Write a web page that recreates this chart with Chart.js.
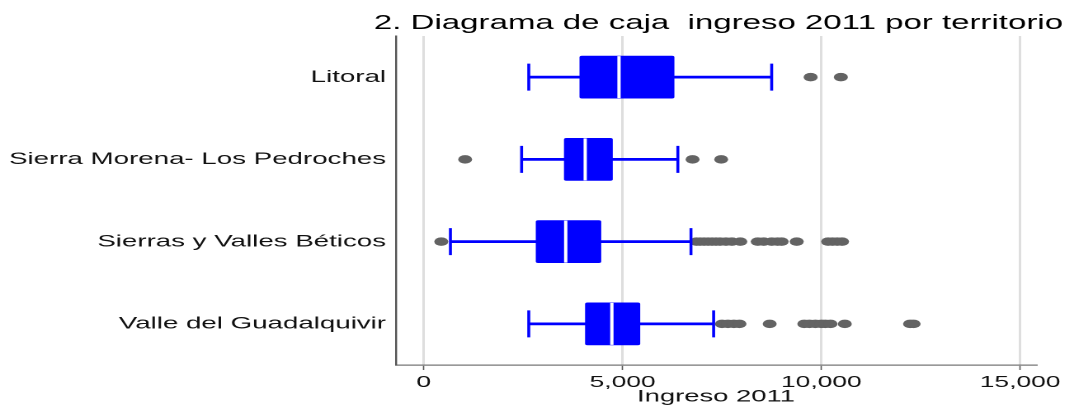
<!DOCTYPE html>
<html lang="es">
<head>
    <meta charset="UTF-8">
    <title>Diagrama de caja ingreso 2011</title>
    <style>
        html, body {
            margin: 0;
            padding: 0;
            background-color: white;
            overflow: hidden;
        }
        #grafico {
            display: block;
        }
    </style>
    <script src="https://cdn.jsdelivr.net/npm/chart.js@4.4.1/dist/chart.umd.min.js"></script>
    <script>
        const titulo = '2. Diagrama de caja  ingreso 2011 por territorio';
        const tituloEje = 'Ingreso 2011';
        const territorios = ['Litoral', 'Sierra Morena- Los Pedroches', 'Sierras y Valles Béticos', 'Valle del Guadalquivir'];

        const bigoteMin = [2640, 2460, 670, 2640];
        const cuartil1 = [3930, 3540, 2830, 4070];
        const mediana = [4910, 4060, 3570, 4730];
        const cuartil3 = [6290, 4740, 4450, 5430];
        const bigoteMax = [8750, 6390, 6720, 7290];

        const atipLitoral = [9730, 10490];
        const atipSierraMorena = [1040, 6760, 7480];
        const atipSierras = [440, 6860, 6950, 7050, 7150, 7250, 7350, 7450, 7600, 7750, 7960,
                             8400, 8550, 8750, 8900, 9000, 9380, 10170, 10280, 10400, 10520];
        const atipValle = [7500, 7650, 7800, 7940, 8700, 9570, 9700, 9850, 10000, 10100, 10230,
                           10590, 12230, 12320];

        const ticksX = [0, 5000, 10000, 15000];

        const AZUL = '#0000ff';
        const FUENTE = "'Liberation Sans', Arial, sans-serif";

        function puntos(valores) {
            return valores.map((v, i) => ({ x: v, y: territorios[i] }));
        }

        // title centred over the plot area, like the original
        const tituloCentrado = {
            id: 'tituloCentrado',
            afterDraw(chart) {
                const { ctx, chartArea } = chart;
                ctx.save();
                ctx.font = '20px ' + FUENTE;
                ctx.fillStyle = '#000';
                ctx.textAlign = 'center';
                ctx.textBaseline = 'alphabetic';
                ctx.fillText(titulo, (chartArea.left + chartArea.right) / 2 + 1.5, 29);
                ctx.restore();
            }
        };

        window.onload = function() {
            const atipicos = [atipLitoral, atipSierraMorena, atipSierras, atipValle]
                .flatMap((lista, i) => lista.map(v => ({ x: v, y: territorios[i] })));

            const ctx = document.getElementById('grafico').getContext('2d');
            new Chart(ctx, {
                data: {
                    labels: territorios,
                    datasets: [
                        {
                            type: 'line',
                            label: 'Mediana',
                            data: puntos(mediana),
                            showLine: false,
                            pointStyle: 'line',
                            pointRotation: 90,
                            pointRadius: 21,
                            pointBorderColor: '#ffffff',
                            pointBorderWidth: 2,
                            order: 0
                        },
                        {
                            type: 'bar',
                            label: 'Caja',
                            data: cuartil1.map((q, i) => [q, cuartil3[i]]),
                            backgroundColor: AZUL,
                            barThickness: 42,
                            borderRadius: 1.5,
                            borderSkipped: false,
                            grouped: false,
                            order: 1
                        },
                        {
                            type: 'line',
                            label: 'Extremos',
                            data: puntos(bigoteMin).concat(puntos(bigoteMax)),
                            showLine: false,
                            pointStyle: 'line',
                            pointRotation: 90,
                            pointRadius: 13.5,
                            pointBorderColor: AZUL,
                            pointBorderWidth: 1.8,
                            order: 2
                        },
                        {
                            type: 'line',
                            label: 'Atípicos',
                            data: atipicos,
                            showLine: false,
                            pointStyle: 'circle',
                            pointRadius: 4.25,
                            pointBackgroundColor: '#636363',
                            pointBorderWidth: 0,
                            order: 3
                        },
                        {
                            type: 'bar',
                            label: 'Bigotes',
                            data: bigoteMin.map((m, i) => [m, bigoteMax[i]]),
                            backgroundColor: AZUL,
                            barThickness: 2,
                            grouped: false,
                            order: 4
                        }
                    ]
                },
                options: {
                    indexAxis: 'y',
                    responsive: false,
                    devicePixelRatio: 2,
                    animation: false,
                    events: [],
                    layout: {
                        padding: { top: 36, right: 17.6, bottom: 0, left: 0 }
                    },
                    scales: {
                        x: {
                            type: 'linear',
                            position: 'bottom',
                            min: -700,
                            max: 15400,
                            afterBuildTicks: (scale) => {
                                scale.ticks = ticksX.map(v => ({ value: v }));
                            },
                            afterFit: (scale) => {
                                scale.height = 42;
                                // let the 15,000 label hang into the right margin
                                scale.paddingLeft = 0;
                                scale.paddingRight = 0;
                            },
                            grid: {
                                color: '#dedede',
                                lineWidth: 1.5,
                                tickLength: 5,
                                tickColor: '#555555',
                                tickWidth: 0.8
                            },
                            border: { color: '#777777', width: 1.3 },
                            ticks: {
                                color: '#111',
                                padding: 3,
                                font: { size: 16, family: FUENTE },
                                callback: (v) => v.toLocaleString('en-US')
                            },
                            title: {
                                display: true,
                                text: tituloEje,
                                color: '#111',
                                padding: 0,
                                font: { size: 16.6, family: FUENTE }
                            }
                        },
                        y: {
                            type: 'category',
                            offset: true,
                            afterFit: (scale) => { scale.width = 240; },
                            grid: { display: false, drawTicks: false },
                            border: { color: '#555555', width: 1.2 },
                            ticks: {
                                color: '#111',
                                padding: 6,
                                font: { size: 16.8, family: FUENTE }
                            }
                        }
                    },
                    plugins: {
                        legend: { display: false },
                        tooltip: { enabled: false },
                        title: { display: false }
                    }
                },
                plugins: [tituloCentrado]
            });
        };
    </script>
</head>
<body>
    <!-- the reference picture is stretched sideways: the chart is drawn 651px wide
         and the inline style widens it to 1074px (Chart.js keeps an inline size) -->
    <canvas id="grafico" width="651" height="407" style="width: 1074px; height: 407px;"></canvas>
</body>
</html>
